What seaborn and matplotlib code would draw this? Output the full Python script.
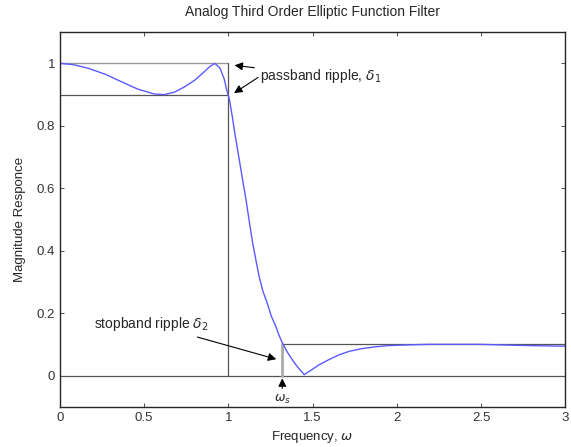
import pandas as pd
import seaborn as sns
import matplotlib.pyplot as plt

# magnitude response
freq = [0, 0.08, 0.17, 0.27, 0.37, 0.46, 0.56, 0.62, 0.68, 0.74, 0.8, 0.85,
        0.89, 0.92, 0.95, 0.975, 0.99, 1.006, 1.024, 1.04, 1.065, 1.085,
        1.105, 1.125, 1.144, 1.165, 1.183, 1.205, 1.23, 1.255, 1.282, 1.30,
        1.32, 1.35, 1.38, 1.41, 1.45, 1.49, 1.54, 1.6, 1.66, 1.72, 1.79,
        1.87, 1.95, 2.05, 2.19, 2.49, 2.78, 3.0]
mag = [1, 0.996, 0.984, 0.965, 0.94, 0.918, 0.902, 0.9, 0.908, 0.925, 0.946,
       0.97, 0.99, 1.0, 0.985, 0.95, 0.915, 0.885, 0.827, 0.77, 0.69, 0.625,
       0.562, 0.49, 0.425, 0.365, 0.316, 0.27, 0.233, 0.19, 0.157, 0.13,
       0.105, 0.075, 0.05, 0.028, 0.003, 0.017, 0.035, 0.052, 0.067, 0.078,
       0.086, 0.092, 0.096, 0.098, 0.1, 0.1, 0.096, 0.094]

xticks = [0, 0.5, 1, 1.5, 2, 2.5, 3]
xlabels = ['0', '0.5', '1', '1.5', '2', '2.5', '3']
yticks = [0, 0.2, 0.4, 0.6, 0.8, 1]
ylabels = ['0', '0.2', '0.4', '0.6', '0.8', '1']

df = pd.DataFrame({'freq': freq, 'mag': mag})

sns.set_style('ticks')
plt.rcParams['font.family'] = ['Liberation Sans', 'DejaVu Sans']
plt.rcParams['font.size'] = 9.5

fig = plt.figure(figsize=(5.71, 4.47), dpi=100)
ax = fig.add_axes([0.105, 0.09, 0.885, 0.838])

# reference lines for the ripple bands
ax.plot([0, 1], [1, 1], color='#999999', lw=1)
ax.plot([0, 1], [0.9, 0.9], color='#555555', lw=0.9)
ax.plot([1, 1], [0, 1], color='#555555', lw=0.9)
ax.plot([0, 3], [0, 0], color='#555555', lw=0.9)
ax.plot([1.32, 3], [0.1, 0.1], color='#555555', lw=0.9)
ax.plot([1.32, 1.32], [0, 0.1], color='#aaaaaa', lw=2)

sns.lineplot(data=df, x='freq', y='mag', ax=ax, color='#5a5aff', lw=1)

arr = dict(arrowstyle='-|>', color='black', lw=0.8, mutation_scale=12)
ax.annotate('passband ripple, $\\delta_1$', xy=(1.02, 0.995), xytext=(1.19, 0.96),
            va='center', fontsize=10, arrowprops=arr)
ax.annotate('', xy=(1.02, 0.9), xytext=(1.19, 0.96), arrowprops=arr)
ax.annotate('stopband ripple $\\delta_2$', xy=(1.3, 0.05), xytext=(0.88, 0.165),
            ha='right', va='center', fontsize=10, arrowprops=arr)
ax.annotate('', xy=(1.32, 0.0), xytext=(1.32, -0.05), arrowprops=arr)
ax.text(1.32, -0.055, '$\\omega_s$', ha='center', va='top', fontsize=9)

ax.set_xlim(0, 3)
ax.set_ylim(-0.1, 1.1)
ax.set_xticks(xticks)
ax.set_xticklabels(xlabels)
ax.set_yticks(yticks)
ax.set_yticklabels(ylabels)
ax.tick_params(direction='in', top=True, right=True, length=3, width=0.6, colors='#333333')
for s in ax.spines.values():
    s.set_linewidth(1)
ax.set_title('Analog Third Order Elliptic Function Filter', fontsize=10, pad=12)
ax.set_xlabel('Frequency, $\\omega$', labelpad=4)
ax.set_ylabel('Magnitude Responce', labelpad=8)

fig.savefig('out.png', dpi=100)
